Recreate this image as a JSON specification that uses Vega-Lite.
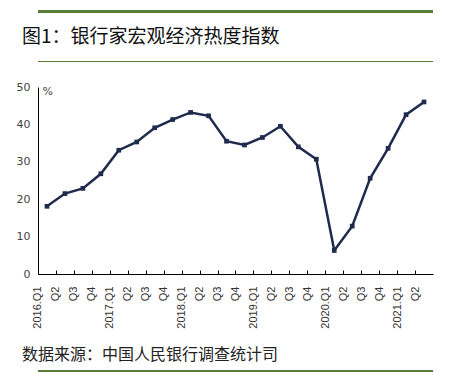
{
  "$schema": "https://vega.github.io/schema/vega-lite/v6.json",
  "background": "white",
  "padding": {"left": 16, "top": 5, "right": 10, "bottom": 0},
  "spacing": 14,
  "config": {"view": {"stroke": null}},
  "vconcat": [
    {
      "spacing": 10,
      "vconcat": [
        {
          "width": 395, "height": 3,
          "view": {"stroke": null, "fill": "#5b7b3a"},
          "data": {"values": [{"a": 1}]},
          "mark": "text",
          "encoding": {"text": {"value": ""}}
        },
        {
          "width": 395, "height": 1,
          "view": {"stroke": null, "fill": "#5b7b3a"},
          "title": {"text": "图1：银行家宏观经济热度指数", "anchor": "start", "dx": -16, "font": "Noto Sans CJK SC", "fontSize": 19, "fontWeight": "normal", "color": "#111111", "offset": 9},
          "data": {"values": [{"a": 1}]},
          "mark": "text",
          "encoding": {"text": {"value": ""}}
        }
      ]
    },
    {
      "spacing": 17,
      "vconcat": [
        {
          "width": 395, "height": 187,
          "data": {"values": [
            {"q": "2016Q1", "v": 18.1}, {"q": "2016Q2", "v": 21.5}, {"q": "2016Q3", "v": 22.9}, {"q": "2016Q4", "v": 26.8},
            {"q": "2017Q1", "v": 33.1}, {"q": "2017Q2", "v": 35.3}, {"q": "2017Q3", "v": 39.1}, {"q": "2017Q4", "v": 41.3},
            {"q": "2018Q1", "v": 43.2}, {"q": "2018Q2", "v": 42.3}, {"q": "2018Q3", "v": 35.5}, {"q": "2018Q4", "v": 34.5},
            {"q": "2019Q1", "v": 36.5}, {"q": "2019Q2", "v": 39.5}, {"q": "2019Q3", "v": 34.0}, {"q": "2019Q4", "v": 30.7},
            {"q": "2020Q1", "v": 6.3}, {"q": "2020Q2", "v": 12.8}, {"q": "2020Q3", "v": 25.6}, {"q": "2020Q4", "v": 33.6},
            {"q": "2021Q1", "v": 42.6}, {"q": "2021Q2", "v": 46.0}
          ]},
          "encoding": {
            "x": {
              "field": "q", "type": "ordinal", "sort": null,
              "scale": {"type": "band", "paddingInner": 0, "paddingOuter": 0},
              "axis": {
                "title": null,
                "labelExpr": "slice(datum.value, 4) == 'Q1' ? slice(datum.value, 0, 4) + '.Q1' : slice(datum.value, 4)",
                "labelAngle": -90,
                "labelFont": "Liberation Sans", "labelFontSize": 11, "labelColor": "#333333",
                "labelPadding": 16,
                "tickSize": -4, "tickOffset": -9, "tickColor": "#000000",
                "domainColor": "#000000", "domainWidth": 1
              }
            },
            "y": {
              "field": "v", "type": "quantitative",
              "scale": {"domain": [0, 50], "nice": false},
              "axis": {
                "values": [0, 10, 20, 30, 40, 50],
                "ticks": false, "grid": false,
                "domainColor": "#000000",
                "labelFont": "DejaVu Sans", "labelFontSize": 11, "labelColor": "#444444", "labelPadding": 8,
                "title": "%", "titleAngle": 0, "titleX": 4, "titleY": -2, "titleAlign": "left", "titleBaseline": "top",
                "titleFont": "DejaVu Sans", "titleFontSize": 11, "titleFontWeight": "normal", "titleColor": "#444444"
              }
            }
          },
          "layer": [
            {"mark": {"type": "line", "color": "#1f2a4d", "strokeWidth": 2.5}},
            {"mark": {"type": "point", "shape": "square", "filled": true, "size": 22, "color": "#1f2a4d", "opacity": 1}}
          ]
        },
        {
          "width": 395, "height": 3,
          "view": {"stroke": null, "fill": "#5b7b3a"},
          "title": {"text": "数据来源：中国人民银行调查统计司", "anchor": "start", "dx": -16, "font": "Noto Sans CJK SC", "fontSize": 16, "fontWeight": "normal", "color": "#222222", "offset": 3},
          "data": {"values": [{"a": 1}]},
          "mark": "text",
          "encoding": {"text": {"value": ""}}
        }
      ]
    }
  ]
}
